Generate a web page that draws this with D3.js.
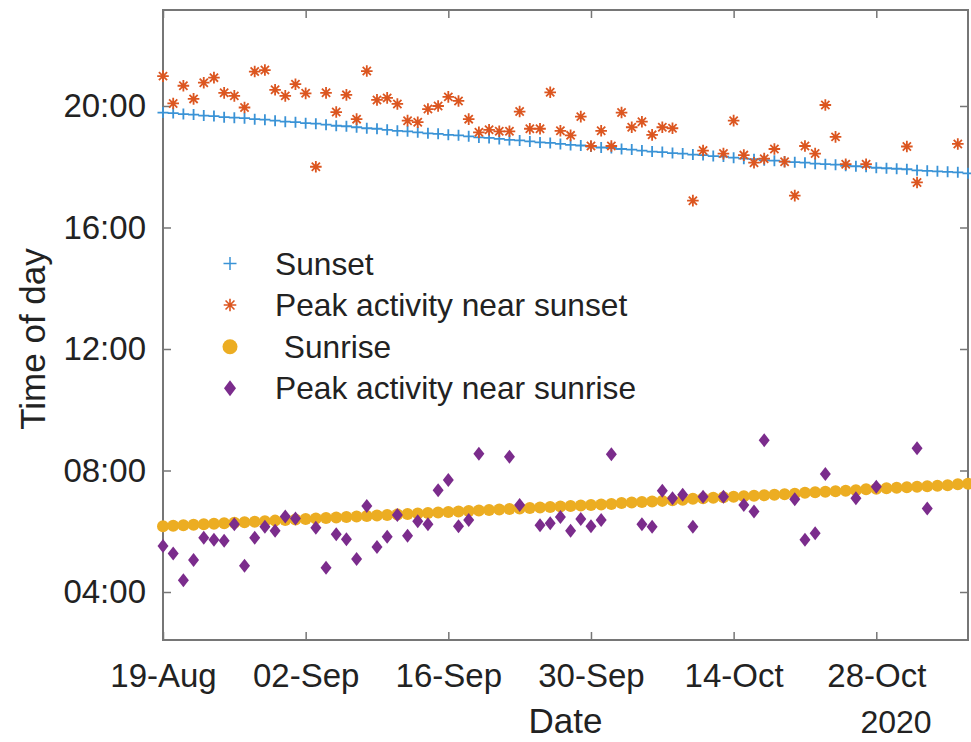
<!DOCTYPE html>
<html>
<head>
<meta charset="utf-8">
<script src="https://cdn.jsdelivr.net/npm/d3@7"></script>
<style>
  html, body { margin: 0; padding: 0; background: #ffffff; }
  svg { display: block; }
  text { font-family: "Liberation Sans", Arial, Helvetica, sans-serif; fill: #222222; }
</style>
</head>
<body>
<svg id="chart" width="971" height="742"></svg>
<script>
// ---- Data -------------------------------------------------------------
const startDate = "2020-08-19";
const endDate = "2020-11-06";

// Daily sunset / sunrise clock times, one entry per day from 19-Aug
const sunsetTimes = [
  "19:47","19:46","19:44","19:43","19:41","19:40","19:38","19:37","19:36","19:34","19:33",
  "19:31","19:29","19:28","19:26","19:25","19:23","19:21","19:20","19:18","19:16",
  "19:15","19:13","19:11","19:10","19:08","19:06","19:05","19:03","19:02","19:00",
  "18:58","18:57","18:55","18:53","18:52","18:50","18:48","18:47","18:45","18:43",
  "18:42","18:40","18:38","18:37","18:35","18:34","18:32","18:30","18:29","18:27",
  "18:26","18:24","18:23","18:21","18:20","18:18","18:16","18:15","18:13","18:12",
  "18:10","18:09","18:08","18:06","18:05","18:04","18:02","18:01","18:00","17:58",
  "17:57","17:56","17:55","17:53","17:52","17:51","17:50","17:49","17:47"
];
const sunriseTimes = [
  "06:10","06:11","06:12","06:13","06:14","06:15","06:16","06:17","06:18","06:19","06:20",
  "06:21","06:22","06:23","06:24","06:25","06:26","06:27","06:28","06:29","06:30",
  "06:31","06:32","06:33","06:34","06:35","06:36","06:37","06:38","06:39","06:40",
  "06:41","06:42","06:43","06:44","06:45","06:46","06:47","06:48","06:49",
  "06:50","06:51","06:52","06:53","06:54","06:56","06:57","06:58","06:59","07:00","07:01",
  "07:02","07:04","07:05","07:06","07:07",
  "07:08","07:09","07:10","07:11","07:12",
  "07:13","07:14","07:16","07:17","07:18","07:19","07:20","07:21","07:23","07:24",
  "07:25","07:26","07:27","07:28","07:29","07:30","07:31","07:33","07:34"
];

// Peak activity near sunset: day number (0 = 19-Aug) and clock time
const sunsetPeakDays = [
  0,1,2,3,4,5,6,7,8,9,10,11,12,13,14,15,16,17,18,19,20,21,22,23,24,25,26,27,28,29,
  30,31,32,33,34,35,36,37,38,39,40,41,42,43,44,45,46,47,48,49,50,52,53,55,56,57,58,59,
  60,61,62,63,64,65,66,67,69,73,74,78
];
const sunsetPeakTimes = [
  "20:59","20:05","20:40","20:14","20:46","20:56","20:26","20:20","19:57","21:08",
  "21:11","20:32","20:20","20:43","20:25","18:00","20:26","19:48","20:22","19:34",
  "21:09","20:12","20:16","20:04","19:31","19:28","19:54","20:00","20:18","20:10",
  "19:34","19:08","19:13","19:10","19:10","19:49","19:15","19:15","20:27","19:11",
  "19:02","19:39","18:41","19:11","18:41","19:47","19:18","19:29","19:03","19:18",
  "19:16","16:53","18:32","18:26","19:31","18:23","18:08","18:16",
  "18:35","18:10","17:03","18:41","18:26","20:02","18:59","18:05","18:05","18:40","17:29","18:45"
];

// Peak activity near sunrise: day number (0 = 19-Aug) and clock time
const sunrisePeakDays = [
  0,1,2,3,4,5,6,7,8,9,10,11,12,13,15,16,17,18,19,20,21,22,23,24,25,26,27,28,29,
  30,31,34,35,37,38,39,40,41,42,43,44,47,48,49,50,51,52,53,55,57,58,59,
  62,63,64,65,68,70,74,75
];
const sunrisePeakTimes = [
  "05:31","05:16","04:23","05:03","05:47","05:43","05:41","06:14","04:52","05:47",
  "06:09","06:01","06:29","06:25","06:07","04:48","05:54","05:44","05:05","06:50",
  "05:29","05:49","06:32","05:51","06:20","06:14","07:21","07:41","06:10",
  "06:22","08:33","08:27","06:52","06:12","06:16","06:28","06:01","06:24","06:10",
  "06:22","08:32","06:14","06:09","07:20","07:05","07:12","06:09","07:08","07:08",
  "06:52","06:39","09:00","07:03","05:43","05:56","07:53","07:05","07:28","08:44","06:45"
];

const xTickLabels = ["19-Aug","02-Sep","16-Sep","30-Sep","14-Oct","28-Oct"];
const yTickHours = [4, 8, 12, 16, 20];
const yDomainHours = [2.42, 23.16];

const legendLabels = ["Sunset", "Peak activity near sunset", " Sunrise", "Peak activity near sunrise"];

// ---- Helpers ----------------------------------------------------------
const parseDay = d3.utcParse("%Y-%m-%d");
const toHours = s => { const [h, m] = s.split(":").map(Number); return h + m / 60; };
const t0 = parseDay(startDate);
const dayDate = n => d3.utcDay.offset(t0, n);

const sunsetData = sunsetTimes.map((t, i) => ({ date: dayDate(i), h: toHours(t) }));
const sunriseData = sunriseTimes.map((t, i) => ({ date: dayDate(i), h: toHours(t) }));
const sunsetPeak = sunsetPeakDays.map((d, i) => ({ date: dayDate(d), h: toHours(sunsetPeakTimes[i]) }));
const sunrisePeak = sunrisePeakDays.map((d, i) => ({ date: dayDate(d), h: toHours(sunrisePeakTimes[i]) }));

// ---- Layout -----------------------------------------------------------
const plot = { left: 163, right: 968, top: 10, bottom: 640 };

const x = d3.scaleUtc()
  .domain([t0, parseDay(endDate)])
  .range([plot.left, plot.right]);
const y = d3.scaleLinear()
  .domain(yDomainHours)
  .range([plot.bottom, plot.top]);

const colors = {
  sunset: "#3a93d6",
  sunsetPeak: "#dc5620",
  sunrise: "#ecad22",
  sunrisePeak: "#7b2c8c",
  axis: "#767676",
  text: "#222222"
};

const svg = d3.select("#chart");
const tickFontSize = 33;
const legendFontSize = 31.7;

// marker shapes
const crossPath = s => `M${-s},0H${s}M0,${-s}V${s}`;
const starPath = s => {
  const d = s * Math.SQRT1_2;
  return `M${-s},0H${s}M0,${-s}V${s}M${-d},${-d}L${d},${d}M${-d},${d}L${d},${-d}`;
};
const diamondPath = (w, h) => `M0,${-h}L${w},0L0,${h}L${-w},0Z`;

// ---- Axes -------------------------------------------------------------
const xTicks = xTickLabels.map((_, i) => d3.utcDay.offset(t0, 14 * i));

const gx = svg.append("g")
  .attr("transform", `translate(0,${plot.bottom})`)
  .call(d3.axisBottom(x).tickValues(xTicks).tickFormat((d, i) => xTickLabels[i])
    .tickSize(-8).tickPadding(24));
const gxTop = svg.append("g")
  .attr("transform", `translate(0,${plot.top})`)
  .call(d3.axisTop(x).tickValues(xTicks).tickFormat("").tickSize(-8));

const hourFmt = h => String(h).padStart(2, "0") + ":00";
const gy = svg.append("g")
  .attr("transform", `translate(${plot.left},0)`)
  .call(d3.axisLeft(y).tickValues(yTickHours).tickFormat(hourFmt)
    .tickSize(-8).tickPadding(17));
const gyRight = svg.append("g")
  .attr("transform", `translate(${plot.right},0)`)
  .call(d3.axisRight(y).tickValues(yTickHours).tickFormat("").tickSize(-8));

[gx, gxTop, gy, gyRight].forEach(g => {
  g.select(".domain").remove();
  g.selectAll(".tick line").attr("stroke", colors.axis).attr("stroke-width", 1.5);
  g.selectAll(".tick text")
    .attr("font-size", tickFontSize)
    .attr("font-family", "Liberation Sans, Arial, sans-serif")
    .attr("fill", colors.text);
});

// axes box
svg.append("rect")
  .attr("x", plot.left).attr("y", plot.top)
  .attr("width", plot.right - plot.left).attr("height", plot.bottom - plot.top)
  .attr("fill", "none").attr("stroke", colors.axis).attr("stroke-width", 2);

// axis titles
svg.append("text")
  .attr("transform", `translate(45,339) rotate(-90)`)
  .attr("text-anchor", "middle")
  .attr("font-size", 35)
  .text("Time of day");
svg.append("text")
  .attr("x", (plot.left + plot.right) / 2).attr("y", 733)
  .attr("text-anchor", "middle")
  .attr("font-size", 35)
  .text("Date");
svg.append("text")
  .attr("x", 896).attr("y", 733)
  .attr("text-anchor", "middle")
  .attr("font-size", 32)
  .text("2020");

// ---- Series -----------------------------------------------------------
const gData = svg.append("g");

gData.append("g").selectAll("path").data(sunsetData).join("path")
  .attr("transform", d => `translate(${x(d.date)},${y(d.h)})`)
  .attr("d", crossPath(5.5))
  .attr("fill", "none").attr("stroke", colors.sunset).attr("stroke-width", 1.8);

gData.append("g").selectAll("path").data(sunsetPeak).join("path")
  .attr("transform", d => `translate(${x(d.date)},${y(d.h)})`)
  .attr("d", starPath(5.8))
  .attr("fill", "none").attr("stroke", colors.sunsetPeak).attr("stroke-width", 1.8);

gData.append("g").selectAll("circle").data(sunriseData).join("circle")
  .attr("cx", d => x(d.date)).attr("cy", d => y(d.h))
  .attr("r", 6)
  .attr("fill", colors.sunrise);

gData.append("g").selectAll("path").data(sunrisePeak).join("path")
  .attr("transform", d => `translate(${x(d.date)},${y(d.h)})`)
  .attr("d", diamondPath(5.5, 7))
  .attr("fill", colors.sunrisePeak);

// ---- Legend -----------------------------------------------------------
const legendRows = [263.5, 305, 346.7, 388.3];
const legend = svg.append("g");
const mx = 230, tx = 275;

legend.append("path")
  .attr("transform", `translate(${mx},${legendRows[0]})`)
  .attr("d", crossPath(6.5))
  .attr("fill", "none").attr("stroke", colors.sunset).attr("stroke-width", 1.5);
legend.append("path")
  .attr("transform", `translate(${mx},${legendRows[1]})`)
  .attr("d", starPath(6.3))
  .attr("fill", "none").attr("stroke", colors.sunsetPeak).attr("stroke-width", 1.6);
legend.append("circle")
  .attr("cx", mx).attr("cy", legendRows[2]).attr("r", 7.5)
  .attr("fill", colors.sunrise);
legend.append("path")
  .attr("transform", `translate(${mx},${legendRows[3]})`)
  .attr("d", diamondPath(6, 8))
  .attr("fill", colors.sunrisePeak);

legend.selectAll("text").data(legendLabels).join("text")
  .attr("x", tx).attr("y", (d, i) => legendRows[i])
  .attr("dy", "0.35em")
  .attr("font-size", legendFontSize)
  .attr("xml:space", "preserve")
  .style("white-space", "pre")
  .text(d => d);
</script>
</body>
</html>
